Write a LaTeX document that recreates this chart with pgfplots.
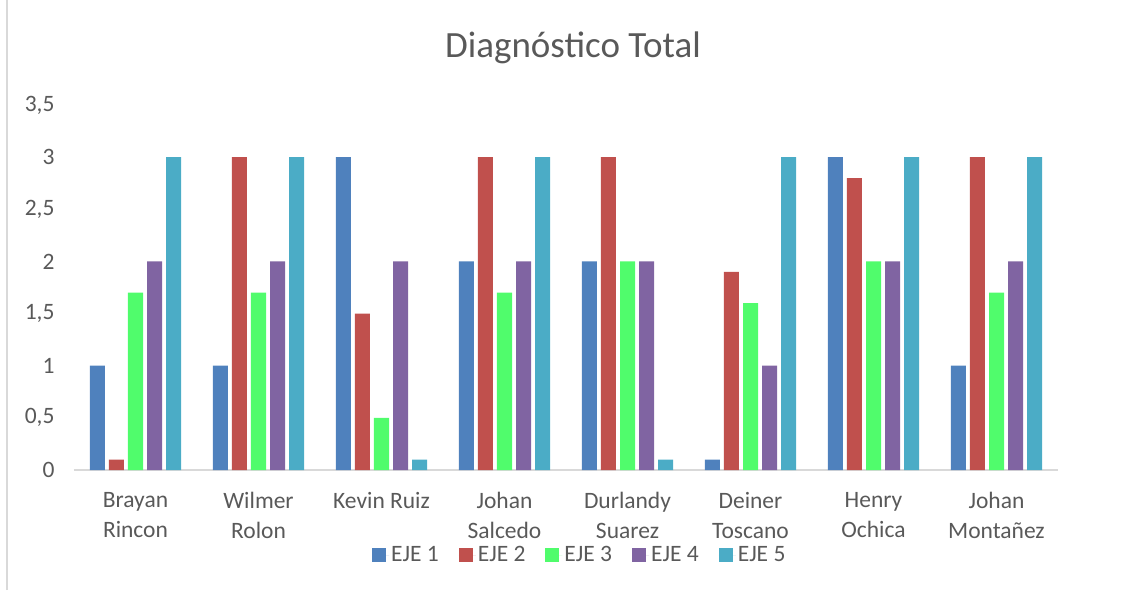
\documentclass[border=0pt]{standalone}
\usepackage{pgfplots}
\usepackage{pgfplotstable}
\pgfplotsset{compat=1.18}
\usepackage{fontspec}
\setmainfont{Carlito}

\definecolor{eje1}{HTML}{4F81BD}
\definecolor{eje2}{HTML}{C0504D}
\definecolor{eje3}{HTML}{50FC6C}
\definecolor{eje4}{HTML}{8064A2}
\definecolor{eje5}{HTML}{4BACC6}
\definecolor{txt}{HTML}{595959}
\definecolor{axln}{HTML}{D9D9D9}

% x: Brayan, Wilmer, Kevin, Johan S., Durlandy, Deiner, Henry, Johan M.
\pgfplotstableread{
x  e1   e2   e3   e4   e5
0  1    0.1  1.7  2    3
1  1    3    1.7  2    3
2  3    1.5  0.5  2    0.1
3  2    3    1.7  2    3
4  2    3    2    2    0.1
5  0.1  1.9  1.6  1    3
6  3    2.8  2    2    3
7  1    3    1.7  2    3
}\datatable

\begin{document}
\begin{tikzpicture}
\useasboundingbox (0,0) rectangle (1130pt,590pt);
\draw[axln, line width=1.5pt] (7pt,0) -- (7pt,590pt);
\node[text=txt, font=\fontsize{37}{44}\selectfont] at (573pt,542pt) {Diagnóstico Total};
\begin{axis}[
  at={(74pt,120pt)}, anchor=south west,
  scale only axis,
  width=984pt, height=365pt,
  xmin=-0.5, xmax=7.5,
  ymin=0, ymax=3.5,
  axis lines*=left,
  x axis line style={axln, line width=1.5pt},
  y axis line style={draw=none},
  major tick length=0pt,
  xtick=data,
  xticklabels={{Brayan\\Rincon},{Wilmer\\Rolon},{Kevin Ruiz},{Johan\\Salcedo},{Durlandy\\Suarez},{Deiner\\Toscano},{Henry\\Ochica},{Johan\\Montañez}},
  xticklabel style={align=center, text=txt, font=\fontsize{23.5}{30}\selectfont, yshift=-19pt},
  ytick={0,0.5,1,1.5,2,2.5,3,3.5},
  yticklabels={0,{0,5},1,{1,5},2,{2,5},3,{3,5}},
  yticklabel style={text=txt, font=\fontsize{23.5}{28}\selectfont, xshift=-16pt},
  ybar, bar width=0.122,
  legend columns=5,
  legend style={at={(0.514,-0.233)}, anchor=center, draw=none, fill=none,
    font=\fontsize{23.5}{28}\selectfont, text=txt,
    /tikz/every even column/.append style={column sep=18pt}},
  legend image code/.code={\fill[#1] (0pt,-7pt) rectangle (14pt,7pt); \path (0pt,0pt) -- (17pt,0pt);},
]
\addplot[fill=eje1, draw=none, bar shift=-0.31] table[x=x, y=e1] {\datatable};
\addplot[fill=eje2, draw=none, bar shift=-0.155] table[x=x, y=e2] {\datatable};
\addplot[fill=eje3, draw=none, bar shift=0] table[x=x, y=e3] {\datatable};
\addplot[fill=eje4, draw=none, bar shift=0.155] table[x=x, y=e4] {\datatable};
\addplot[fill=eje5, draw=none, bar shift=0.31] table[x=x, y=e5] {\datatable};
\legend{EJE 1, EJE 2, EJE 3, EJE 4, EJE 5}
\end{axis}
\end{tikzpicture}
\end{document}
